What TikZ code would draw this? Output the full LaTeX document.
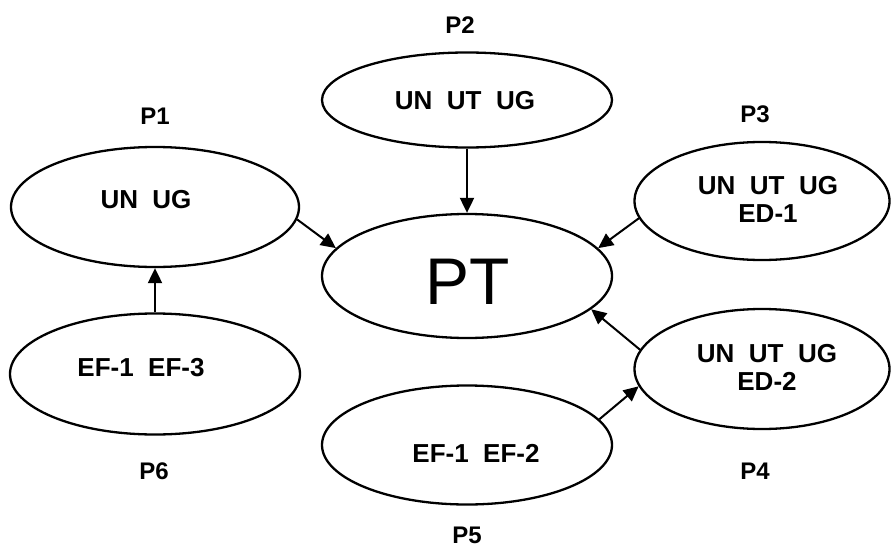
\documentclass[tikz,border=0pt]{standalone}
\usepackage{fontspec}
\setmainfont{Liberation Sans}
\usetikzlibrary{shapes.geometric,arrows.meta}
\begin{document}
\begin{tikzpicture}[x=1pt,y=-1pt,
  oval/.style={draw, ellipse, line width=2.3pt, inner sep=0pt},
  intext/.style={font=\bfseries\fontsize{26}{28}\selectfont, align=center, inner sep=0pt},
  bigtext/.style={font=\fontsize{66}{70}\selectfont, inner sep=0pt},
  plabel/.style={font=\bfseries\fontsize{24}{26}\selectfont, inner sep=0pt},
  conn/.style={line width=2pt, -{Triangle[length=15pt,width=14pt]}}]
\useasboundingbox (0,0) rectangle (891,551);
% ellipses
\node[oval, minimum width=290pt, minimum height=95pt]  (p2) at (467,100) {};
\node[oval, minimum width=290pt, minimum height=124pt] (pt) at (467,276) {};
\node[oval, minimum width=288pt, minimum height=120pt] (p1) at (155,207) {};
\node[oval, minimum width=290pt, minimum height=121pt] (p6) at (155,374) {};
\node[oval, minimum width=255pt, minimum height=118pt] (p3) at (762,201) {};
\node[oval, minimum width=255pt, minimum height=120pt] (p4) at (762,369) {};
\node[oval, minimum width=290pt, minimum height=119pt] (p5) at (467,445) {};
% texts inside
\node[intext] (t2) at (465,101) {UN\ \ UT\ \ UG};
\node[bigtext] (tpt) at (468,282) {PT};
\node[intext] (t1) at (146,200) {UN\ \ UG};
\node[intext] (t6) at (141,368) {EF-1\ \ EF-3};
\node[intext] (t3) at (768,199) {UN\ \ UT\ \ UG\\ED-1};
\node[intext] (t4) at (767,367) {UN\ \ UT\ \ UG\\ED-2};
\node[intext] (t5) at (476,453) {EF-1\ \ EF-2};
% labels
\node[plabel] (l2) at (460,25) {P2};
\node[plabel] (l1) at (155,116) {P1};
\node[plabel] (l3) at (755,114) {P3};
\node[plabel] (l6) at (154,471) {P6};
\node[plabel] (l4) at (755,471) {P4};
\node[plabel] (l5) at (467,535) {P5};
% connectors
\draw[conn] (p2.south) -- (pt.north);
\draw[conn] (p6.north) -- (p1.south);
\draw[conn] (p1.-5) -- (pt.168);
\draw[conn] (p3.-172) -- (pt.12);
\draw[conn] (p4.171) -- (pt.-15);
\draw[conn] (p5.11) -- (p4.-172);
\end{tikzpicture}
\end{document}
